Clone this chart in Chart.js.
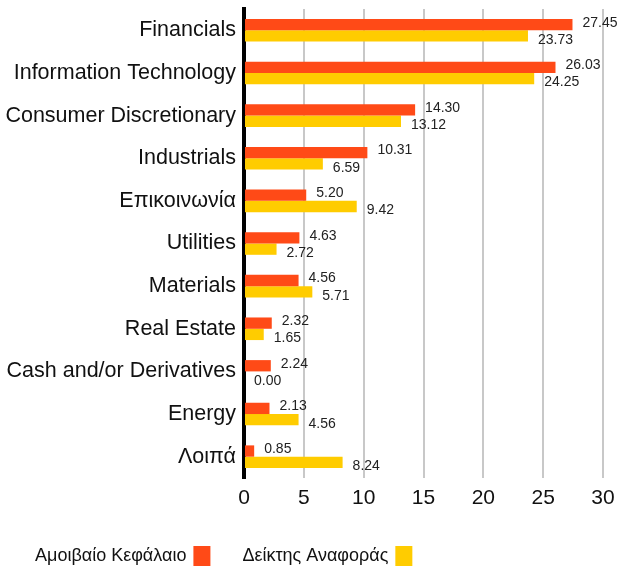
<!DOCTYPE html>
<html>
<head>
<meta charset="utf-8">
<script src="https://cdn.jsdelivr.net/npm/chart.js@4"></script>
<style>
  html, body { margin: 0; padding: 0; background: #fff; }
  canvas { display: block; }
</style>
</head>
<body>
<canvas id="grafico" width="621" height="572"></canvas>
<script>
// Categorías del eje vertical
const categorias = ['Financials', 'Information Technology', 'Consumer Discretionary', 'Industrials',
    'Επικοινωνία', 'Utilities', 'Materials', 'Real Estate', 'Cash and/or Derivatives', 'Energy', 'Λοιπά'];

// Series
const fondo = [27.45, 26.03, 14.30, 10.31, 5.20, 4.63, 4.56, 2.32, 2.24, 2.13, 0.85];
const indice = [23.73, 24.25, 13.12, 6.59, 9.42, 2.72, 5.71, 1.65, 0.00, 4.56, 8.24];

const nombresSeries = ['Αμοιβαίο Κεφάλαιο', 'Δείκτης Αναφοράς'];
const colores = ['#FF4A17', '#FFCC00'];

const fuente = '"Liberation Sans", Arial, sans-serif';

// Etiquetas de valor al final de cada barra
const etiquetasValor = {
    id: 'etiquetasValor',
    afterDatasetsDraw(chart) {
        const ctx = chart.ctx;
        ctx.save();
        ctx.font = '14px ' + fuente;
        ctx.fillStyle = '#222';
        ctx.textBaseline = 'middle';
        ctx.textAlign = 'left';
        chart.data.datasets.forEach((ds, i) => {
            const meta = chart.getDatasetMeta(i);
            meta.data.forEach((bar, j) => {
                const dy = i === 0 ? -2 : 4;
                ctx.fillText(ds.data[j].toFixed(2), bar.x + 10, bar.y + dy);
            });
        });
        ctx.restore();
    }
};

// Leyenda abajo: texto primero y luego el cuadro de color
const leyendaAbajo = {
    id: 'leyendaAbajo',
    afterDraw(chart) {
        const ctx = chart.ctx;
        ctx.save();
        ctx.font = '18px ' + fuente;
        ctx.textBaseline = 'middle';
        let x = 35;
        const y = 556;
        nombresSeries.forEach((n, i) => {
            ctx.fillStyle = '#111';
            ctx.fillText(n, x, y);
            x += ctx.measureText(n).width + 7;
            ctx.fillStyle = colores[i];
            ctx.fillRect(x, y - 10, 17, 20);
            x += 17 + 32;
        });
        ctx.restore();
    }
};

new Chart(document.getElementById('grafico'), {
    type: 'bar',
    data: {
        labels: categorias,
        datasets: [
            { label: nombresSeries[0], data: fondo, backgroundColor: colores[0] },
            { label: nombresSeries[1], data: indice, backgroundColor: colores[1] }
        ]
    },
    options: {
        indexAxis: 'y',
        responsive: false,
        animation: false,
        categoryPercentage: 0.53,
        barPercentage: 1,
        layout: { padding: { top: 9, right: 18, bottom: 0, left: 0 } },
        plugins: {
            legend: { display: false },
            tooltip: { enabled: false }
        },
        scales: {
            x: {
                min: 0,
                max: 30,
                ticks: { stepSize: 5, color: '#111', font: { size: 21, family: fuente }, padding: 8 },
                grid: { color: '#c8c8c8', lineWidth: 2, tickLength: 0, drawTicks: false },
                border: { display: false },
                afterFit: s => { s.height = 94; s.paddingLeft = 0; s.paddingRight = 0; }
            },
            y: {
                ticks: { color: '#111', font: { size: 21.5, family: fuente }, padding: 0 },
                grid: { display: false },
                border: { color: '#000', width: 4 },
                afterFit: s => { s.width = 244; s.paddingTop = 0; s.paddingBottom = 0; }
            }
        }
    },
    plugins: [etiquetasValor, leyendaAbajo]
});
</script>
</body>
</html>
